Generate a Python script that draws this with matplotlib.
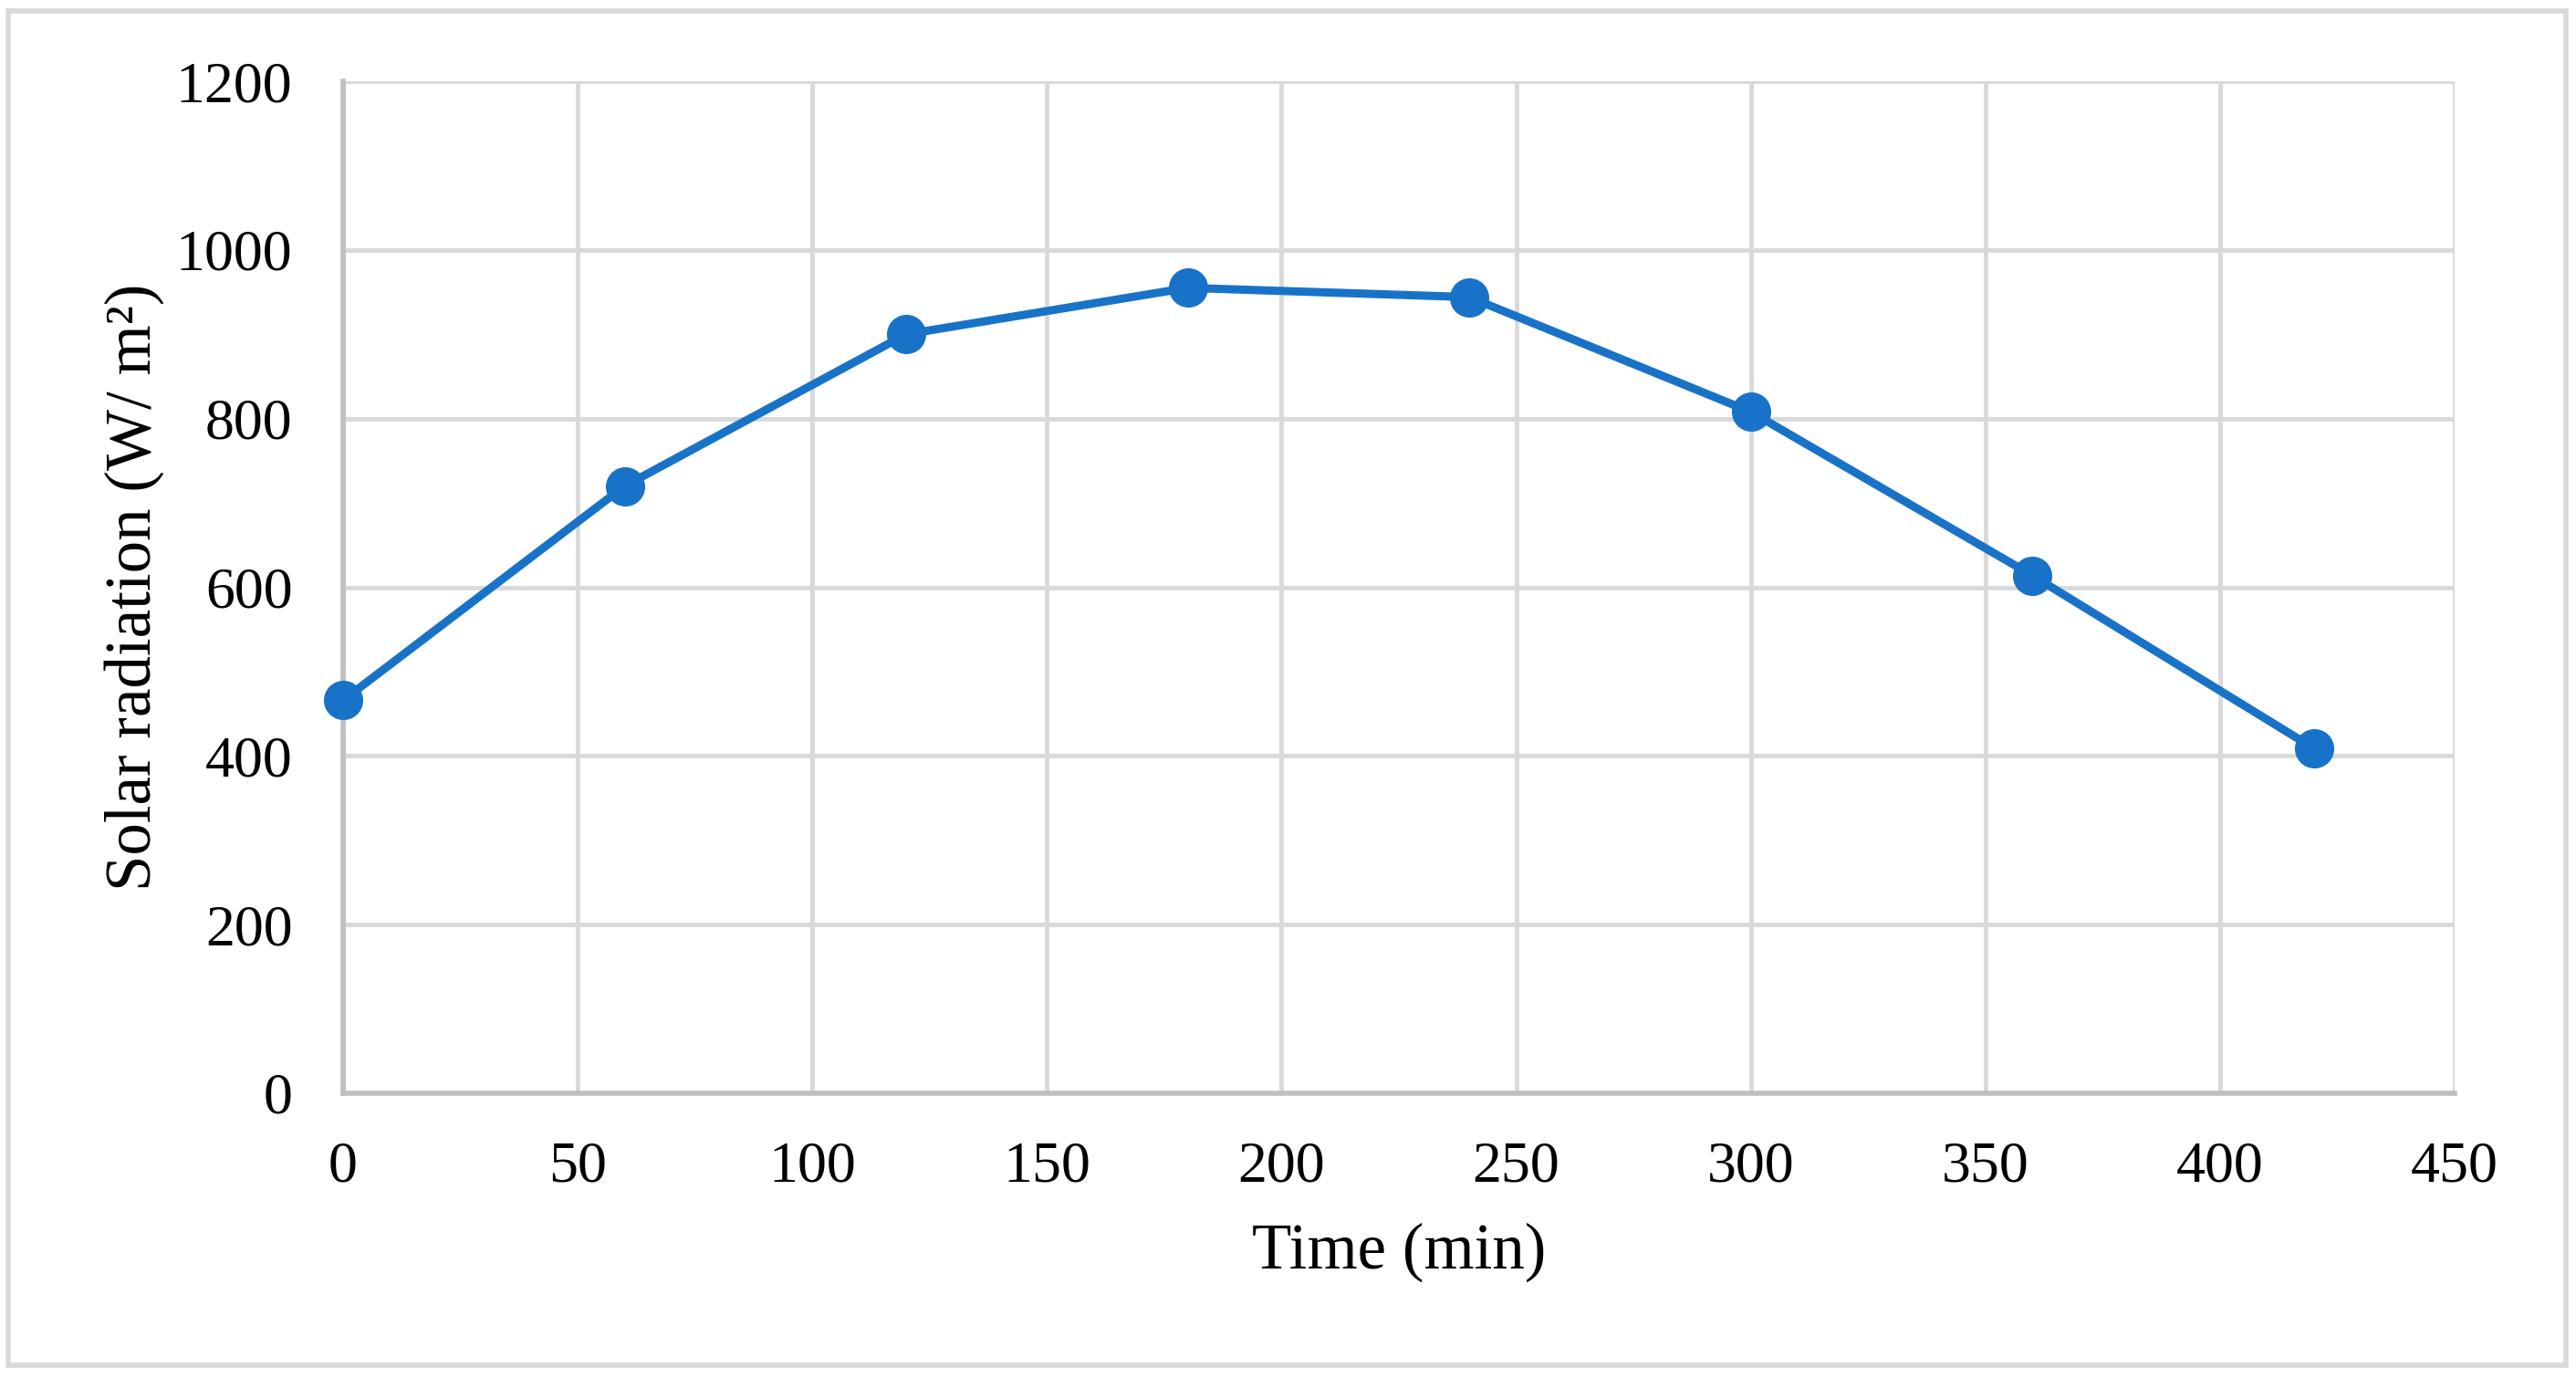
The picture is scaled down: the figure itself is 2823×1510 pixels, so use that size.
import matplotlib
matplotlib.use("Agg")
import matplotlib.pyplot as plt
from matplotlib.patches import Rectangle

# Data
time_min = [0, 60, 120, 180, 240, 300, 360, 420]
solar_radiation = [466, 720, 900, 955, 944, 808, 614, 409]
x_ticks = [0, 50, 100, 150, 200, 250, 300, 350, 400, 450]
y_ticks = [0, 200, 400, 600, 800, 1000, 1200]
x_label = "Time (min)"
y_label = "Solar radiation (W/ m\u00b2)"

plt.rcParams['font.family'] = ['Liberation Serif', 'DejaVu Serif']

W, H = 2823, 1510
DPI = 100
fig = plt.figure(figsize=(W / DPI, H / DPI), dpi=DPI)
fig.patch.set_facecolor('white')

left, right, top, bottom = 376, 2690, 89, 1198
ax = fig.add_axes([left / W, 1 - bottom / H, (right - left) / W, (bottom - top) / H])

line_color = '#1873C8'
ax.plot(time_min, solar_radiation, color=line_color, linewidth=6.5,
        marker='o', markersize=30, markerfacecolor=line_color,
        markeredgecolor=line_color, zorder=3, clip_on=False)

ax.set_xlim(0, 450)
ax.set_ylim(0, 1200)
ax.set_xticks(x_ticks)
ax.set_yticks(y_ticks)
ax.grid(True, color='#D9D9D9', linewidth=3.5, zorder=0)
ax.set_axisbelow(True)

for s in ['top', 'right']:
    ax.spines[s].set_visible(False)
for s in ['left', 'bottom']:
    ax.spines[s].set_color('#BFBFBF')
    ax.spines[s].set_linewidth(4)
    ax.spines[s].set_zorder(1)

ax.tick_params(axis='both', length=0, labelsize=46, colors='black')
ax.tick_params(axis='x', pad=38)
ax.tick_params(axis='y', pad=40)

fig.text((left + right) / 2 / W, 1 - 1372 / H, x_label, fontsize=51,
         ha='center', va='center')
fig.text(147 / W, 1 - (top + bottom) / 2 / H, y_label, fontsize=51,
         rotation=90, ha='center', va='center')

# outer chart border
fig.patches.append(Rectangle((9 / W, 1 - 1496 / H), (2812 - 9) / W, (1496 - 12) / H,
                             transform=fig.transFigure, fill=False,
                             edgecolor='#D9D9D9', linewidth=4))

fig.savefig('out.png', dpi=DPI, facecolor='white')
